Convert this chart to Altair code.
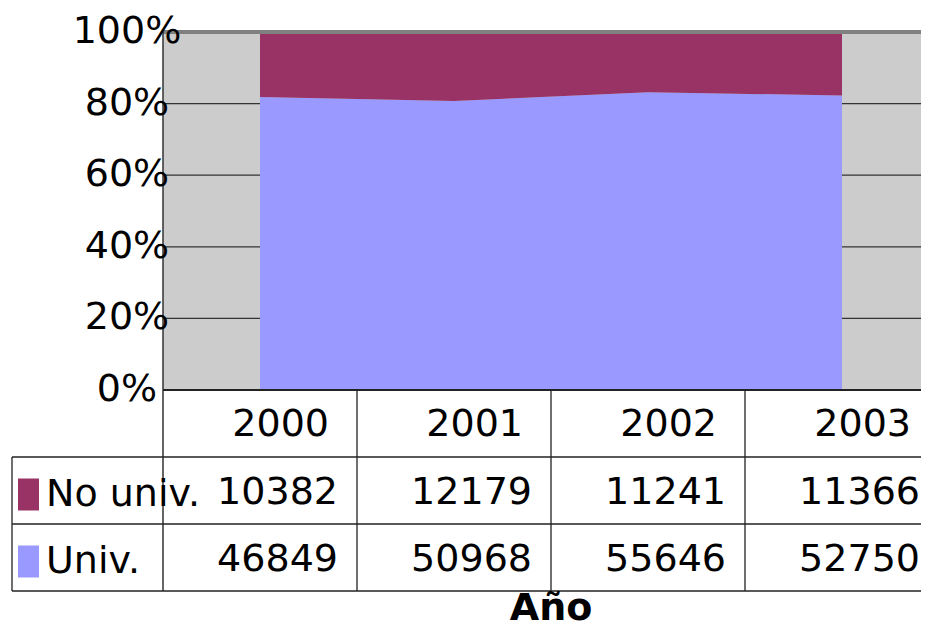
import altair as alt
import pandas as pd

# ---------------- data ----------------
years = ["2000", "2001", "2002", "2003"]
no_univ = [10382, 12179, 11241, 11366]
univ = [46849, 50968, 55646, 52750]
series = ["No univ.", "Univ."]
series_colors = ["#993366", "#9999ff"]
y_ticks = [0.0, 0.2, 0.4, 0.6, 0.8, 1.0]
y_tick_labels = ["0%", "20%", "40%", "60%", "80%", "100%"]
x_title = "Año"

# ---------------- layout (svg pixels; page = svg + 8) ----------------
W, H = 913, 623
BAND = 194.0
PLOT_LEFT = 155.0
PLOT_TOP = 24.0
PLOT_BOTTOM = 382.0
ROW = 67.0
TABLE_LEFT = 4.0
FONT = "DejaVu Sans"
FS = 38

n = len(years)
ppu_y = PLOT_BOTTOM - PLOT_TOP


def xpx(px):
    return -0.5 + (px - PLOT_LEFT) / BAND


def ypx(py):
    return (PLOT_BOTTOM - py) / ppu_y


x_scale = alt.Scale(domain=[xpx(0), xpx(W)], nice=False, zero=False)
y_scale = alt.Scale(domain=[ypx(H), ypx(0)], nice=False, zero=False)
X = lambda f: alt.X(f, type="quantitative", scale=x_scale, axis=None)
X2 = lambda f: alt.X2(f)
Y = lambda f: alt.Y(f, type="quantitative", scale=y_scale, axis=None)
Y2 = lambda f: alt.Y2(f)

left = -0.5
right = n - 0.5
row_y = [ypx(PLOT_BOTTOM + k * ROW) for k in range(4)]

# background of plot area
bg_df = pd.DataFrame({"x": [left], "x2": [right], "y": [0.0], "y2": [1.0]})
bg = alt.Chart(bg_df).mark_rect(color="#cccccc").encode(
    x=X("x"), x2=X2("x2"), y=Y("y"), y2=Y2("y2"))

# gridlines
grid_df = pd.DataFrame({"y": y_ticks[1:-1], "x": left, "x2": right})
grid = alt.Chart(grid_df).mark_rule(color="#333333", strokeWidth=1.2).encode(
    x=X("x"), x2=X2("x2"), y=Y("y"))

# stacked (normalized) area
rows = []
for i, yr in enumerate(years):
    rows.append({"xi": i, "series": "Univ.", "value": univ[i], "ord": 0})
    rows.append({"xi": i, "series": "No univ.", "value": no_univ[i], "ord": 1})
area_df = pd.DataFrame(rows)
area = alt.Chart(area_df).mark_area(opacity=1).encode(
    x=X("xi"),
    y=alt.Y("value:Q", stack="normalize", scale=y_scale, axis=None),
    color=alt.Color("series:N", scale=alt.Scale(domain=series, range=series_colors), legend=None),
    order=alt.Order("ord:Q"),
)

# plot frame
top_df = pd.DataFrame({"x": [left], "x2": [right], "y": [1.0]})
top = alt.Chart(top_df).mark_rule(color="#808080", strokeWidth=4).encode(
    x=X("x"), x2=X2("x2"), y=Y("y"))
leftline_df = pd.DataFrame({"x": [left], "y": [1.0], "y2": [row_y[3]]})
leftline = alt.Chart(leftline_df).mark_rule(color="#333333", strokeWidth=1.5).encode(
    x=X("x"), y=Y("y"), y2=Y2("y2"))
base_df = pd.DataFrame({"x": [left], "x2": [right], "y": [0.0]})
baseline = alt.Chart(base_df).mark_rule(color="#222222", strokeWidth=2).encode(
    x=X("x"), x2=X2("x2"), y=Y("y"))

# table lines
hl_df = pd.DataFrame({"y": row_y[1:], "x": xpx(TABLE_LEFT), "x2": right})
hlines = alt.Chart(hl_df).mark_rule(color="#222222", strokeWidth=1.3).encode(
    x=X("x"), x2=X2("x2"), y=Y("y"))
vl_df = pd.DataFrame({"x": [i + 0.5 for i in range(n)], "y": 0.0, "y2": row_y[3]})
vlines = alt.Chart(vl_df).mark_rule(color="#222222", strokeWidth=1.3).encode(
    x=X("x"), y=Y("y"), y2=Y2("y2"))
tl_df = pd.DataFrame({"x": [xpx(TABLE_LEFT)], "y": [row_y[1]], "y2": [row_y[3]]})
tline = alt.Chart(tl_df).mark_rule(color="#222222", strokeWidth=1.3).encode(
    x=X("x"), y=Y("y"), y2=Y2("y2"))

# y tick labels
yl_df = pd.DataFrame({"y": y_ticks, "label": y_tick_labels, "x": left})
ylabels = alt.Chart(yl_df).mark_text(font=FONT, fontSize=FS, align="center", baseline="middle",
                                     dx=-36, color="black").encode(
    x=X("x"), y=Y("y"), text="label:N")

# table header (years)
hd_df = pd.DataFrame({"x": [i + 0.5 for i in range(n)], "label": years,
                      "y": (row_y[0] + row_y[1]) / 2})
header = alt.Chart(hd_df).mark_text(font=FONT, fontSize=FS, align="right", baseline="middle",
                                    dx=-28, dy=1, color="black").encode(
    x=X("x"), y=Y("y"), text="label:N")

# table values
vals = []
for k, (s, arr) in enumerate([("No univ.", no_univ), ("Univ.", univ)]):
    yc = (row_y[k + 1] + row_y[k + 2]) / 2
    for i in range(n):
        vals.append({"x": i + 0.5, "y": yc, "label": str(arr[i])})
val_df = pd.DataFrame(vals)
values = alt.Chart(val_df).mark_text(font=FONT, fontSize=FS, align="right", baseline="middle",
                                     dx=-19, dy=2, color="black").encode(
    x=X("x"), y=Y("y"), text="label:N")

# row labels + swatches
lab_df = pd.DataFrame({"series": series, "x": left,
                       "y": [(row_y[1] + row_y[2]) / 2, (row_y[2] + row_y[3]) / 2]})
labels = alt.Chart(lab_df).mark_text(font=FONT, fontSize=FS, align="left", baseline="middle",
                                     dx=-117, dy=4, color="black").encode(
    x=X("x"), y=Y("y"), text="series:N")
sw = alt.Chart(lab_df).mark_rect(xOffset=-145, x2Offset=-124, yOffset=-12, y2Offset=20).encode(
    x=X("x"), x2=X2("x"), y=Y("y"), y2=Y2("y"),
    color=alt.Color("series:N", scale=alt.Scale(domain=series, range=series_colors), legend=None))

# axis title
t_df = pd.DataFrame({"x": [(n - 1) / 2], "y": [ypx(612)], "label": [x_title]})
title = alt.Chart(t_df).mark_text(font=FONT, fontSize=FS, fontWeight="bold", align="center",
                                  baseline="alphabetic", color="black").encode(
    x=X("x"), y=Y("y"), text="label:N")

chart = alt.layer(bg, grid, area, top, leftline, baseline, hlines, vlines, tline,
                  ylabels, header, values, labels, sw, title).properties(
    width=W, height=H,
    autosize=alt.AutoSizeParams(type="none"),
    padding=0,
    background="white",
).configure_view(stroke=None)

chart.save("out.html", embed_options={"renderer": "svg", "actions": False})
